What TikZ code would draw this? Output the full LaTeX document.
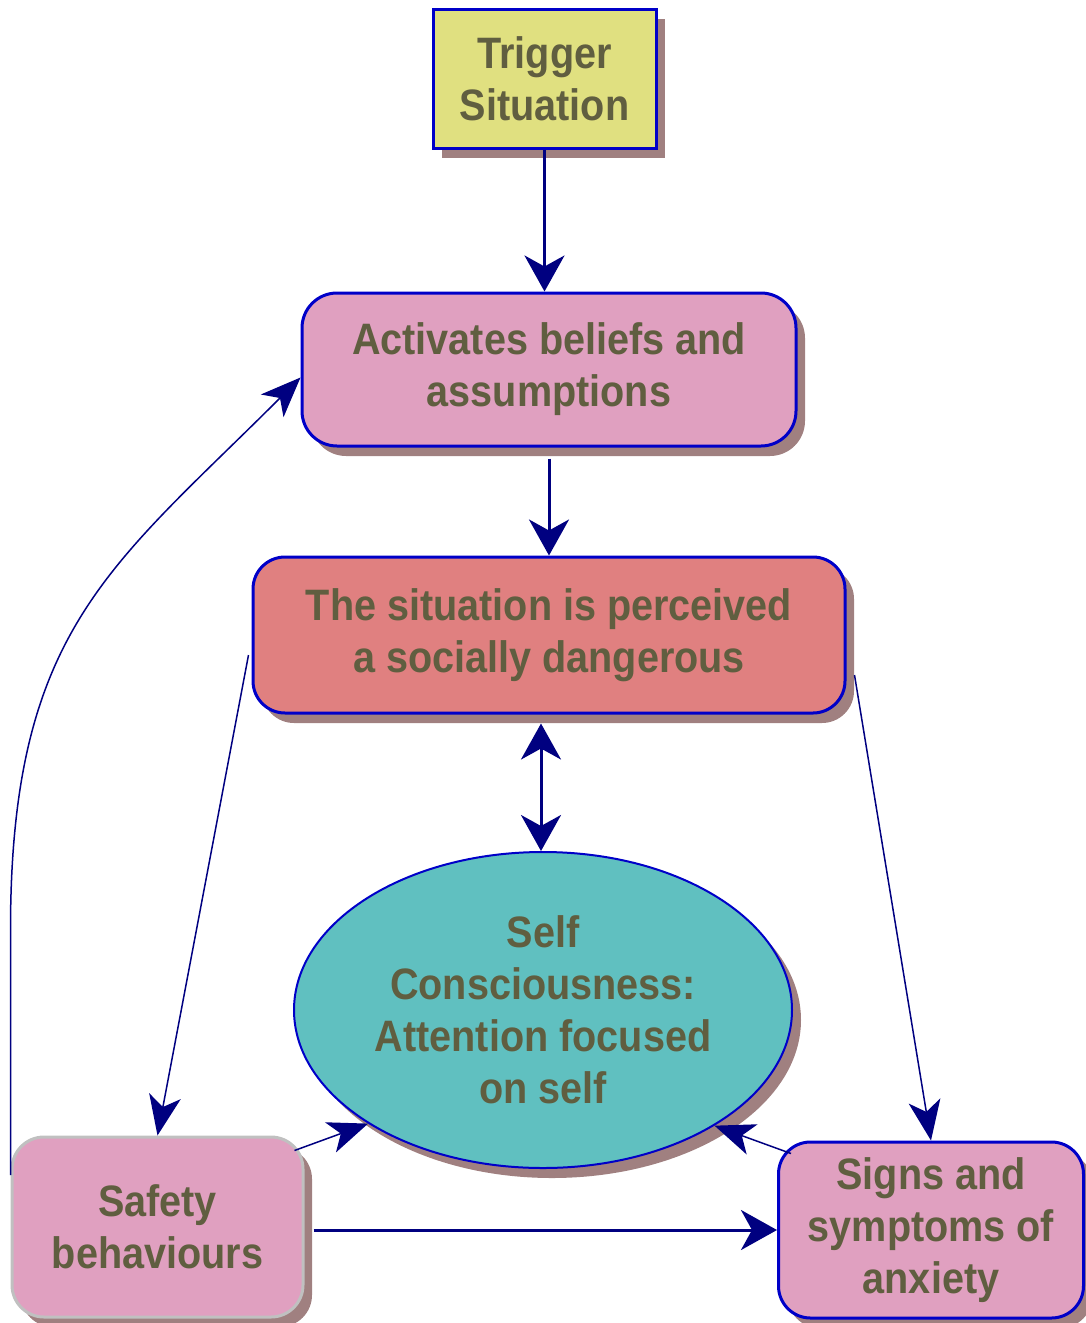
\documentclass[tikz,border=0pt]{standalone}
\usepackage{fontspec}
\newfontfamily\lbl{Liberation Sans}[FakeStretch=0.9]
\usetikzlibrary{arrows.meta,shadows,shapes.geometric,calc}
\definecolor{edge}{RGB}{0,0,200}
\definecolor{greyedge}{RGB}{192,192,192}
\definecolor{navy}{RGB}{0,0,128}
\definecolor{shade}{RGB}{160,128,128}
\definecolor{ink}{RGB}{96,94,64}
\definecolor{trigfill}{RGB}{224,224,128}
\definecolor{pinkfill}{RGB}{224,160,192}
\definecolor{salmonfill}{RGB}{224,128,128}
\definecolor{tealfill}{RGB}{96,192,192}
\begin{document}
\begin{tikzpicture}[x=1pt,y=-1pt,
  box/.style={draw=edge, line width=3pt, inner sep=0pt, align=center, text=ink,
    font=\lbl\bfseries\fontsize{44}{52}\selectfont,
    drop shadow={shadow xshift=9pt, shadow yshift=-10pt, fill=shade, opacity=1}},
  bigflow/.style={draw=navy, line width=3pt, -{Stealth[length=36pt,width=40pt,inset=11pt]}},
  bothflow/.style={draw=navy, line width=3pt, {Stealth[length=36pt,width=40pt,inset=11pt]}-{Stealth[length=36pt,width=40pt,inset=11pt]}},
  thinflow/.style={draw=navy, line width=1.5pt, -{Stealth[length=40pt,width=32pt,inset=11pt]}}]
\useasboundingbox (0,0) rectangle (1086,1323);

% boxes
\node[box, fill=trigfill, minimum width=223pt, minimum height=139pt] (trig) at (544.5,78.5) {Trigger\\Situation};
\node[box, rounded corners=35pt, fill=pinkfill, minimum width=494pt, minimum height=153pt] (act) at (549,369.5) {Activates beliefs and\\assumptions};
\node[box, rounded corners=32pt, fill=salmonfill, minimum width=592pt, minimum height=156pt] (sit) at (549,635) {The situation is perceived\\a socially dangerous};
\node[box, ellipse, line width=2pt, fill=tealfill, minimum width=498pt, minimum height=316pt] (self) at (543,1010) {Self\\Consciousness:\\Attention focused\\on self};
\node[box, draw=greyedge, rounded corners=32pt, fill=pinkfill, minimum width=291pt, minimum height=180pt] (safe) at (157.5,1227) {Safety\\behaviours};
\node[box, rounded corners=32pt, fill=pinkfill, minimum width=305pt, minimum height=176pt] (sign) at (931,1230) {Signs and\\symptoms of\\anxiety};

% main chain
\draw[bigflow] (trig.south) -- (trig.south |- act.north);
\draw[bigflow] ($(act.south)+(0,11)$) -- (sit.north);
\draw[bothflow] ($(self.north |- sit.south)+(-2,9)$) -- ($(self.north)+(-2,0)$);

% side branches
\draw[thinflow] ($(sit.west)+(-3,20)$) -- (safe.north);
\draw[thinflow] ($(sit.east)+(8,40)$) -- (sign.north);

% feedback loop back to the beliefs
\draw[thinflow] ($(safe.west)+(0,-52)$) -- ($(safe.west)+(0,-297)$)
  .. controls ($(safe.west)+(0,-597)$) and ($(act.west)+(-190,198)$) .. ($(act.west)+(0,8)$);

% links into self consciousness
\draw[thinflow] ($(safe.north east)+(-10,15)$) -- (self.213);
\draw[thinflow] ($(sign.north west)+(14,13)$) -- (self.326);

% bottom link
\draw[bigflow] ($(sign.west -| safe.east)+(9,0)$) -- (sign.west);
\end{tikzpicture}
\end{document}
